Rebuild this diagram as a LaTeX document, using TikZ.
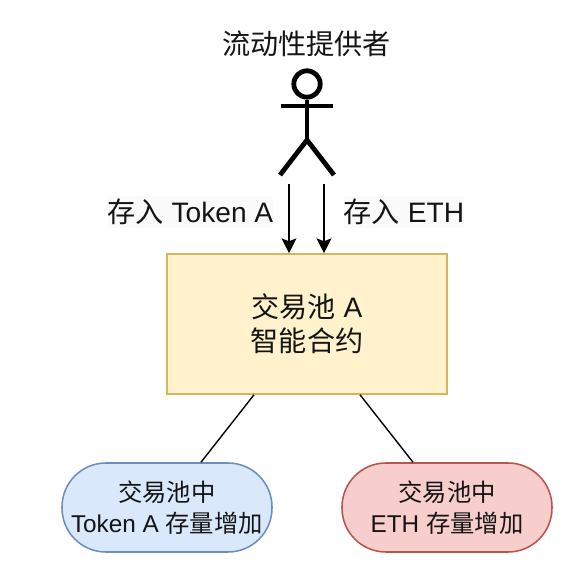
\documentclass[tikz,border=0pt]{standalone}
\usepackage{fontspec}
\setmainfont{Liberation Sans}
\newfontfamily\cjk{Noto Sans CJK SC}
\usetikzlibrary{arrows.meta, calc}
\definecolor{poolborder}{RGB}{214, 182, 86}
\definecolor{poolbg}{RGB}{255, 242, 204}
\definecolor{tokenborder}{RGB}{108, 142, 191}
\definecolor{tokenbg}{RGB}{218, 232, 252}
\definecolor{ethborder}{RGB}{184, 84, 80}
\definecolor{ethbg}{RGB}{248, 206, 204}
\definecolor{labelbg}{RGB}{250, 250, 250}
\definecolor{inktext}{RGB}{20, 20, 20}
\begin{document}
\begin{tikzpicture}[
    font=\fontsize{20}{24}\selectfont,
    text=inktext,
    poolbox/.style={
        rectangle, draw=poolborder, fill=poolbg, line width=1.1pt,
        inner sep=0pt, align=center, minimum width=7cm, minimum height=3.5cm
    },
    pillbox/.style={
        rectangle, rounded corners=1.1cm, line width=1.1pt,
        inner sep=0pt, align=center, minimum width=5.25cm, minimum height=2.225cm,
        font=\fontsize{17.3}{22}\selectfont
    },
    lbl/.style={
        fill=labelbg, inner xsep=0pt, inner ysep=2pt
    },
    stick/.style={
        line width=3.4pt, draw=black
    },
    arrow/.style={
        -{Stealth[length=0.37cm, width=0.37cm, inset=0.07cm]},
        line width=1pt, draw=black
    },
    link/.style={
        line width=1pt, draw=black
    }
]
\useasboundingbox (0, 0) rectangle (14.2, 14.225);

% 1. Provider figure
\node (provider) at (7.66, 13.125) {\cjk 流动性提供者};
\node[stick, circle, inner sep=0pt, minimum size=0.66cm] (head) at (7.675, 12.125) {};
\coordinate (armleft) at (7.025, 11.575);
\coordinate (armright) at (8.325, 11.575);
\coordinate (hip) at (7.675, 10.725);
\coordinate (footleft) at (7.0, 9.85);
\coordinate (footright) at (8.35, 9.85);
\coordinate (tokenstart) at (7.225, 9.625);
\coordinate (ethstart) at (8.1, 9.625);

\draw[stick] (head.south) -- (hip);
\draw[stick] (armleft) -- (armright);
\draw[stick] (footleft) -- (hip) -- (footright);

% 2. Pool contract
\node[poolbox] (pool) at (7.675, 6.125) {{\cjk 交易池} A\\{\cjk 智能合约}};

% 3. Results
\node[pillbox, draw=tokenborder, fill=tokenbg] (tokenpill) at (4.175, 1.5375) {{\cjk 交易池中}\\Token A {\cjk 存量增加}};
\node[pillbox, draw=ethborder, fill=ethbg] (ethpill) at (11.175, 1.5375) {{\cjk 交易池中}\\ETH {\cjk 存量增加}};

% 4. Deposits
\draw[arrow] (tokenstart) -- (tokenstart |- pool.north);
\draw[arrow] (ethstart) -- (ethstart |- pool.north);
\node[lbl] (tokenlabel) at (4.76, 8.925) {{\cjk 存入} Token A};
\node[lbl] (ethlabel) at (10.1, 8.925) {{\cjk 存入} ETH};

% 5. Pool to results
\draw[link] ($(pool.south)+(-1.325, 0)$) -- ($(tokenpill.north)+(0.85, 0)$);
\draw[link] ($(pool.south)+(1.325, 0)$) -- ($(ethpill.north)+(-0.85, 0)$);

\end{tikzpicture}
\end{document}
